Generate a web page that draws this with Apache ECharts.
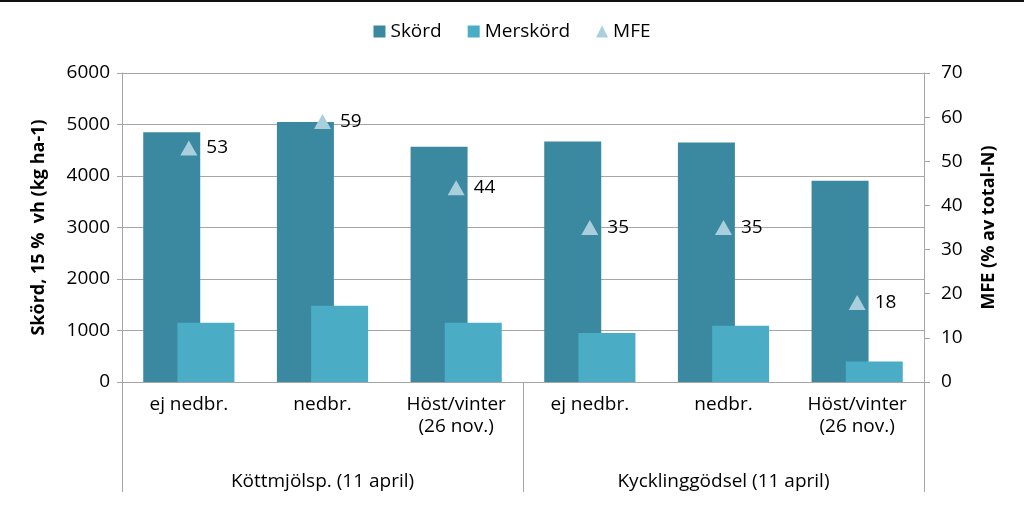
<!DOCTYPE html>
<html>
<head>
<meta charset="utf-8">
<script src="https://cdn.jsdelivr.net/npm/echarts@6/dist/echarts.min.js"></script>
<style>html,body{margin:0;padding:0;background:#fff;}#c{width:1024px;height:505px;}</style>
</head>
<body>
<div id="c"></div>
<script>
const categories = ['ej nedbr.', 'nedbr.', 'Höst/vinter\n(26 nov.)', 'ej nedbr.', 'nedbr.', 'Höst/vinter\n(26 nov.)'];
const groups = ['Köttmjölsp. (11 april)', 'Kycklinggödsel (11 april)'];
const skord = [4850, 5050, 4570, 4670, 4650, 3910];
const merskord = [1150, 1480, 1150, 950, 1090, 400];
const mfe = [53, 59, 44, 35, 35, 18];
const leftTicks = [0, 6000, 1000];
const rightTicks = [0, 70, 10];

const FONT = "'Open Sans', 'Noto Sans', sans-serif";
const GRAY = '#a6a6a6';
const chart = echarts.init(document.getElementById('c'));
chart.setOption({
  animation: false,
  backgroundColor: '#fff',
  textStyle: { fontFamily: FONT, color: '#000' },
  graphic: [{ type: 'rect', shape: { x: 0, y: 0, width: 1024, height: 2 }, style: { fill: '#111' } }],
  legend: {
    top: 17, left: 'center', itemGap: 26, itemWidth: 12, itemHeight: 12,
    textStyle: { fontFamily: FONT, fontSize: 19, color: '#000' },
    data: [
      { name: 'Skörd', icon: 'rect' },
      { name: 'Merskörd', icon: 'rect' },
      { name: 'MFE', icon: 'triangle' }
    ]
  },
  grid: { left: 122, right: 100, top: 73, bottom: 123, containLabel: false },
  xAxis: [
    {
      type: 'category', data: categories, position: 'bottom',
      axisLine: { lineStyle: { color: GRAY, width: 1 } },
      axisTick: { show: false },
      axisLabel: { margin: 12, fontSize: 19, color: '#000', fontFamily: FONT, lineHeight: 22, interval: 0 }
    },
    {
      type: 'category', data: groups, position: 'bottom', gridIndex: 0,
      axisLine: { show: false },
      axisTick: { show: true, length: 110, interval: 0, lineStyle: { color: GRAY } },
      axisLabel: { margin: 90, fontSize: 19, color: '#000', fontFamily: FONT, interval: 0 }
    }
  ],
  yAxis: [
    {
      type: 'value', min: leftTicks[0], max: leftTicks[1], interval: leftTicks[2], position: 'left',
      name: 'Skörd, 15 %  vh (kg ha-1)', nameLocation: 'middle', nameGap: 74, nameRotate: 90,
      nameTextStyle: { fontSize: 18, fontWeight: 'bold', color: '#000', fontFamily: FONT },
      axisLine: { show: true, lineStyle: { color: GRAY } },
      axisTick: { show: true, length: 5, lineStyle: { color: GRAY } },
      axisLabel: { margin: 12, fontSize: 19, color: '#000', fontFamily: FONT, formatter: v => String(v) },
      splitLine: { show: true, lineStyle: { color: GRAY, width: 1 } }
    },
    {
      type: 'value', min: rightTicks[0], max: rightTicks[1], interval: rightTicks[2], position: 'right',
      name: 'MFE (% av total-N)', nameLocation: 'middle', nameGap: 56, nameRotate: 90,
      nameTextStyle: { fontSize: 18, fontWeight: 'bold', color: '#000', fontFamily: FONT },
      axisLine: { show: true, lineStyle: { color: GRAY } },
      axisTick: { show: true, length: 6, lineStyle: { color: GRAY } },
      axisLabel: { margin: 17, fontSize: 19, color: '#000', fontFamily: FONT, formatter: v => String(v) },
      splitLine: { show: false }
    }
  ],
  series: [
    {
      name: 'Skörd', type: 'bar', data: skord, barWidth: 57, barGap: '-40%',
      itemStyle: { color: '#3A89A0' }
    },
    {
      name: 'Merskörd', type: 'bar', data: merskord, barWidth: 57, barGap: '-40%',
      itemStyle: { color: '#4BACC6' }
    },
    {
      name: 'MFE', type: 'scatter', yAxisIndex: 1, data: mfe,
      symbol: 'triangle', symbolSize: [17, 15],
      itemStyle: { color: '#A9CFDC', opacity: 1 },
      label: { show: true, position: 'right', distance: 9, fontSize: 19, color: '#000', opacity: 1, fontFamily: FONT },
      z: 5
    }
  ]
});
</script>
</body>
</html>
